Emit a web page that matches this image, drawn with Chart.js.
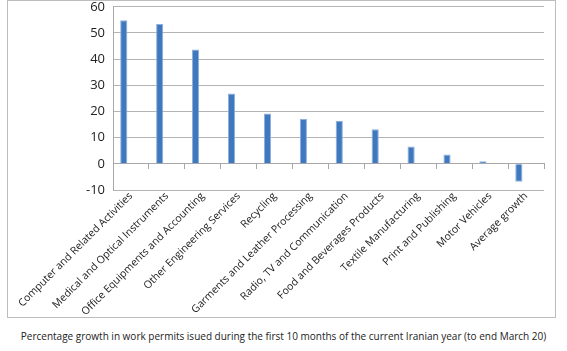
<!DOCTYPE html>
<html>
<head>
<meta charset="utf-8">
<script src="https://cdn.jsdelivr.net/npm/chart.js@4"></script>
<style>
  body { margin: 0; background: #fff; width: 567px; height: 351px; position: relative; font-family: "Open Sans", sans-serif; }
  #box { position: absolute; left: 7px; top: 0px; width: 547px; height: 316px; border: 1px solid #bdbdbd; overflow: hidden; }
  #grafico { position: absolute; left: 0; top: -10px; }
  #caption { position: absolute; left: 0; width: 567px; top: 329px; text-align: center; font-size: 10px; color: #222; }
</style>
</head>
<body>
<div id="box"><canvas id="grafico" width="547" height="326"></canvas></div>
<div id="caption">Percentage growth in work permits isued during the first 10 months of the current Iranian year (to end March 20)</div>
<script>
// settori e crescita percentuale
let settori = [
    'Computer and Related Activities',
    'Medical and Optical Instruments',
    'Office Equipments and Accounting',
    'Other Engineering Services',
    'Recycling',
    'Garments and Leather Processing',
    'Radio, TV and Communication',
    'Food and Beverages Products',
    'Textile Manufacturing',
    'Print and Publishing',
    'Motor Vehicles',
    'Average growth'
];
let crescita = [54.9, 53.4, 43.7, 26.9, 19.2, 17.1, 16.5, 13.2, 6.6, 3.6, 1.0, -6.8];
let tickY = [-10, 0, 10, 20, 30, 40, 50, 60];

let dati = {
    labels: settori,
    datasets: [{
        label: 'growth',
        data: crescita,
        backgroundColor: '#3f78bf',
        borderColor: '#8db0dc',
        borderWidth: 1,
        categoryPercentage: 0.8,
        barPercentage: 0.5
    }, {
        // seconda serie vuota (come nel foglio originale)
        label: '',
        data: [],
        categoryPercentage: 0.8,
        barPercentage: 0.5
    }]
};

let config = {
    type: 'bar',
    data: dati,
    options: {
        responsive: false,
        animation: false,
        layout: { padding: { top: 0, right: 11, left: 0, bottom: 0 } },
        plugins: { legend: { display: false }, tooltip: { enabled: false } },
        scales: {
            y: {
                min: -10, max: 60,
                afterBuildTicks: (s) => { s.ticks = tickY.map(v => ({ value: v })); },
                afterFit: (s) => { s.width = 105; },
                ticks: { color: '#222', font: { family: 'Open Sans', size: 13 }, padding: 8 },
                grid: { color: '#b4b4b4', drawTicks: false },
                border: { color: '#a8a8a8' }
            },
            x: {
                afterFit: (s) => { s.height = 127; },
                ticks: { color: '#222', font: { family: 'Open Sans', size: 10.5 }, minRotation: 45, maxRotation: 45, autoSkip: false, padding: -8 },
                grid: { display: false },
                border: { display: false }
            },
            x2: {
                type: 'category',
                labels: settori,
                position: { y: 0 },
                ticks: { display: false },
                grid: { offset: true, drawOnChartArea: false, tickLength: 5, color: '#a8a8a8' },
                border: { color: '#a8a8a8' }
            }
        }
    }
};

let ctx = document.getElementById('grafico').getContext('2d');
new Chart(ctx, config);
</script>
</body>
</html>
